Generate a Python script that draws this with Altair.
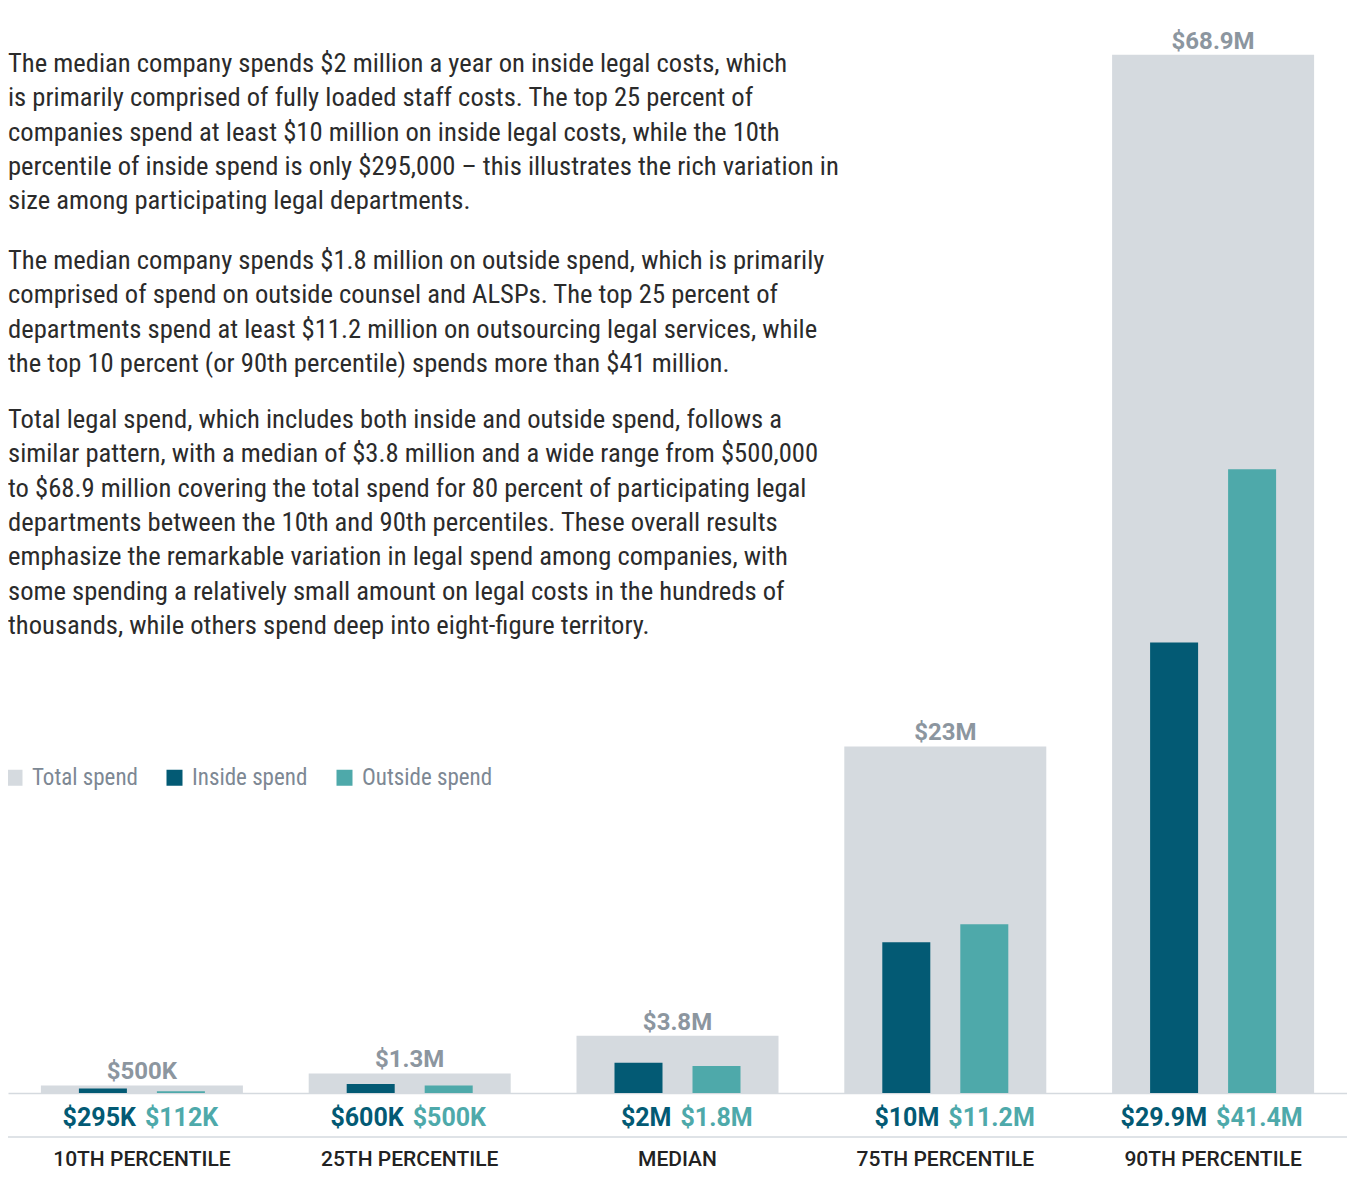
import altair as alt
import pandas as pd

categories = ["10TH PERCENTILE", "25TH PERCENTILE", "MEDIAN", "75TH PERCENTILE", "90TH PERCENTILE"]
total_spend = [0.5, 1.3, 3.8, 23.0, 68.9]
inside_spend = [0.295, 0.6, 2.0, 10.0, 29.9]
outside_spend = [0.112, 0.5, 1.8, 11.2, 41.4]
total_labels = ["$500K", "$1.3M", "$3.8M", "$23M", "$68.9M"]
inside_labels = ["$295K", "$600K", "$2M", "$10M", "$29.9M"]
outside_labels = ["$112K", "$500K", "$1.8M", "$11.2M", "$41.4M"]
series_names = ["Total spend", "Inside spend", "Outside spend"]
series_colors = ["#d5dadf", "#035a74", "#4ea9aa"]

para1 = ("The median company spends $2 million a year on inside legal costs, which\n"
         "is primarily comprised of fully loaded staff costs. The top 25 percent of\n"
         "companies spend at least $10 million on inside legal costs, while the 10th\n"
         "percentile of inside spend is only $295,000 \u2013 this illustrates the rich variation in\n"
         "size among participating legal departments.")
para2 = ("The median company spends $1.8 million on outside spend, which is primarily\n"
         "comprised of spend on outside counsel and ALSPs. The top 25 percent of\n"
         "departments spend at least $11.2 million on outsourcing legal services, while\n"
         "the top 10 percent (or 90th percentile) spends more than $41 million.")
para3 = ("Total legal spend, which includes both inside and outside spend, follows a\n"
         "similar pattern, with a median of $3.8 million and a wide range from $500,000\n"
         "to $68.9 million covering the total spend for 80 percent of participating legal\n"
         "departments between the 10th and 90th percentiles. These overall results\n"
         "emphasize the remarkable variation in legal spend among companies, with\n"
         "some spending a relatively small amount on legal costs in the hundreds of\n"
         "thousands, while others spend deep into eight-figure territory.")

rows = []
for i, c in enumerate(categories):
    rows.append({"category": c, "series": "Total spend", "value": total_spend[i], "label": total_labels[i]})
    rows.append({"category": c, "series": "Inside spend", "value": inside_spend[i], "label": inside_labels[i]})
    rows.append({"category": c, "series": "Outside spend", "value": outside_spend[i], "label": outside_labels[i]})
df = pd.DataFrame(rows)

BODY_FONT = "Roboto Condensed, Roboto"
BOLD_FONT = "Roboto"
PLOT_W = 1339

x_enc = alt.X("category:N", sort=categories,
              scale=alt.Scale(paddingInner=0, paddingOuter=0),
              axis=alt.Axis(title=None, ticks=False, labelAngle=0, domainColor="#d5dadf",
                            domainWidth=1.5, labelFont=BOLD_FONT, labelFontSize=21,
                            labelFontWeight=500, labelColor="#222222",
                            labelBaseline="alphabetic", labelPadding=72))
y_enc = alt.Y("value:Q", scale=alt.Scale(domain=[0, 72], nice=False), axis=None)
color_enc = alt.Color("series:N", scale=alt.Scale(domain=series_names, range=series_colors),
                      legend=alt.Legend(title=None, orient="none", legendX=-5, legendY=758,
                                        padding=0, direction="horizontal", symbolType="square",
                                        symbolSize=256, symbolStrokeWidth=0,
                                        labelFont=BODY_FONT, labelFontSize=23,
                                        labelColor="#7d8894", labelOffset=6,
                                        columnPadding=25))

base = alt.Chart(df)

total_bars = base.transform_filter(alt.datum.series == "Total spend").mark_bar(width=202).encode(
    x=x_enc, y=y_enc, color=color_enc)
inside_bars = base.transform_filter(alt.datum.series == "Inside spend").mark_bar(width=48, xOffset=-39).encode(
    x=x_enc, y=y_enc, color=color_enc)
outside_bars = base.transform_filter(alt.datum.series == "Outside spend").mark_bar(width=48, xOffset=39).encode(
    x=x_enc, y=y_enc, color=color_enc)

top_labels = base.transform_filter(alt.datum.series == "Total spend").mark_text(
    baseline="alphabetic", dy=-6, font=BOLD_FONT, fontSize=24, fontWeight="bold", color="#8c969f"
).encode(x=x_enc, y=y_enc, text="label:N")

inside_text = base.transform_filter(alt.datum.series == "Inside spend").mark_text(
    baseline="alphabetic", align="right", dx=-6, dy=33, font=BOLD_FONT, fontSize=25,
    fontWeight="bold", color="#035a74"
).encode(x=x_enc, y=alt.datum(0), text="label:N")

outside_text = base.transform_filter(alt.datum.series == "Outside spend").mark_text(
    baseline="alphabetic", align="left", dx=3, dy=33, font=BOLD_FONT, fontSize=25,
    fontWeight="bold", color="#4ea9aa"
).encode(x=x_enc, y=alt.datum(0), text="label:N")

sep_rule = alt.Chart(pd.DataFrame({"k": [0]})).mark_rule(color="#d5dadf", strokeWidth=1.5).encode(
    x=alt.value(0), x2=alt.value(PLOT_W), y=alt.value(1129))

para_layers = []
for p, yv in zip([para1, para2, para3], [64, 261, 420]):
    para_layers.append(
        alt.Chart(pd.DataFrame({"text": [p]})).mark_text(
            align="left", baseline="alphabetic", lineBreak="\n", lineHeight=34.3,
            font=BODY_FONT, fontSize=26.6, color="#2b2b2b"
        ).encode(x=alt.value(0), y=alt.value(yv), text="text:N")
    )

chart = alt.layer(total_bars, inside_bars, outside_bars, top_labels, inside_text, outside_text,
                  sep_rule, *para_layers).properties(
    width=PLOT_W, height=1085,
    autosize=alt.AutoSizeParams(type="none"),
    padding={"left": 0, "top": 0, "right": 0, "bottom": 77},
).configure_view(stroke=None)

chart.save("out.html", embed_options={"renderer": "svg", "actions": False})
